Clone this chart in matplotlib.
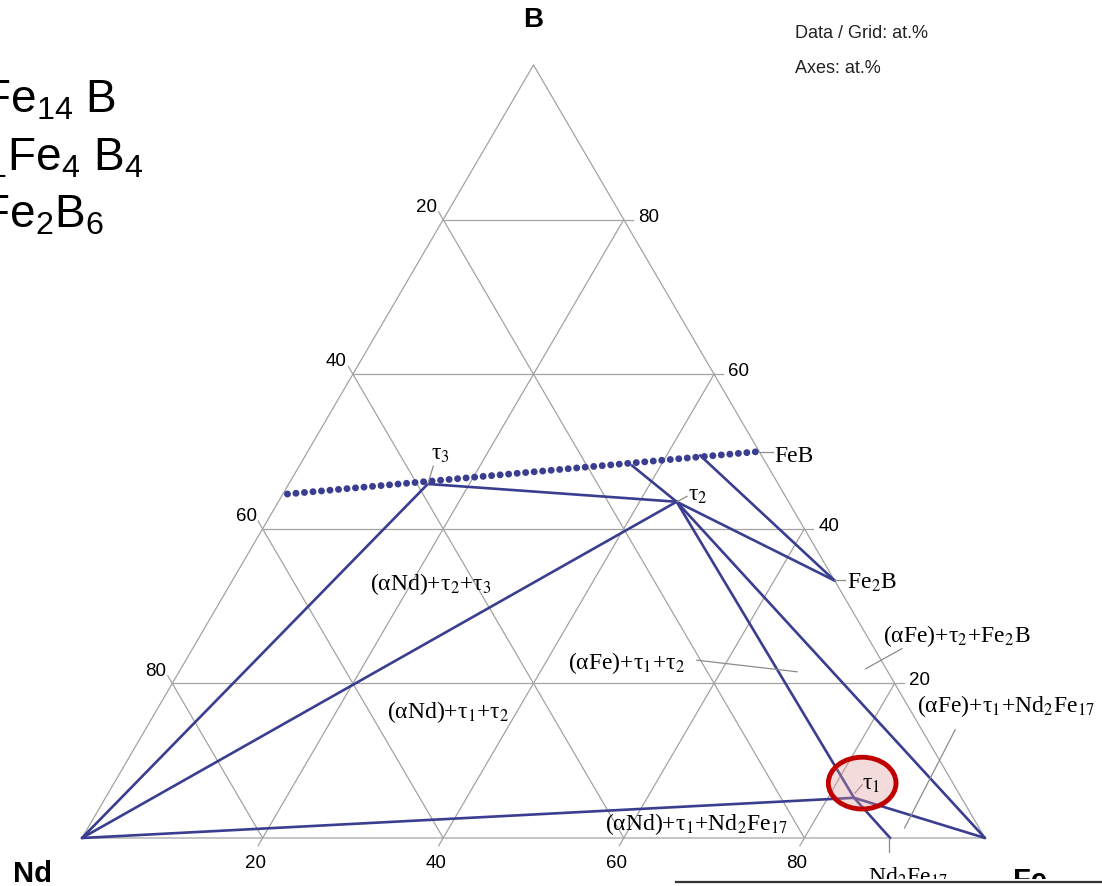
import numpy as np
import matplotlib.pyplot as plt
from matplotlib.patches import Ellipse, Rectangle

plt.rcParams['mathtext.rm'] = 'Liberation Sans'
plt.rcParams['mathtext.it'] = 'Liberation Sans:italic'
plt.rcParams['mathtext.bf'] = 'Liberation Sans:bold'

# phase compositions in at.% (Nd, Fe, B)
nd_corner = [100, 0, 0]
fe_corner = [0, 100, 0]
b_corner = [0, 0, 100]
tau1 = [11.9, 82.9, 5.2]
tau2 = [12.4, 44.1, 43.5]
tau3 = [38.8, 15.4, 45.8]
feb = [0, 50, 50]
fe2b = [0, 66.7, 33.3]
nd2fe17 = [10.5, 89.5, 0]
liq_start = [55.0, 0.5, 44.5]
liq_a = [15.0, 36.8, 48.2]
liq_c = [6.8, 43.7, 49.5]

tie_lines = [(nd_corner, tau3), (nd_corner, tau2), (nd_corner, tau1),
             (tau3, tau2), (liq_a, tau2), (tau2, fe2b), (liq_c, fe2b),
             (tau2, tau1), (tau1, nd2fe17), (tau2, fe_corner), (tau1, fe_corner)]

grid_levels = [20, 40, 60, 80]
grid_labels = ['20', '40', '60', '80']

formulas = [r'Nd$_2$Fe$_{14}$ B', r'Nd$_{1.1}$Fe$_4$ B$_4$', r'Nd$_5$Fe$_2$B$_6$']


def xy(c):
    nd, fe, b = c
    s = nd + fe + b
    return (fe + b / 2) * 100 / s, b * 100 / s


def seg(c1, c2):
    p1, p2 = xy(c1), xy(c2)
    return [p1[0], p2[0]], [p1[1], p2[1]]


fig = plt.figure(figsize=(11.02, 8.86), dpi=100)
ax = fig.add_axes([0, 0, 1, 1])
ax.set_xlim(-9.08, 112.96)
ax.set_ylim(-6.21, 108.41)
ax.axis('off')

grey = '#a3a3a3'
navy = '#3a3d90'
serif = dict(family='Liberation Serif', math_fontfamily='stix', fontsize=17)
sans = dict(family='Liberation Sans', math_fontfamily='custom')

# triangle outline
tri = [nd_corner, fe_corner, b_corner, nd_corner]
ax.plot([xy(c)[0] for c in tri], [xy(c)[1] for c in tri], color=grey, lw=0.9)

# grid lines with a short tick past the labelled edge
for k, lbl in zip(grid_levels, grid_labels):
    # constant B (labelled on the Fe-B edge)
    ax.plot(*seg([100 - k, 0, k], [-1, 101 - k, k]), color=grey, lw=0.9)
    ax.annotate(lbl, xy=xy([-1, 101 - k, k]), xytext=(3.5, -1.5),
                textcoords='offset points', ha='left', va='baseline',
                fontsize=13.5, **sans)
    # constant Nd (labelled on the Nd-B edge)
    ax.plot(*seg([k, -1, 101 - k], [k, 100 - k, 0]), color=grey, lw=0.9)
    ax.annotate(lbl, xy=xy([k, -1, 101 - k]), xytext=(-1, 0),
                textcoords='offset points', ha='right', va='baseline',
                fontsize=13.5, **sans)
    # constant Fe (labelled on the Nd-Fe edge)
    ax.plot(*seg([101 - k, k, -1], [0, k, 100 - k]), color=grey, lw=0.9)
    ax.annotate(lbl, xy=xy([101 - k, k, -1]), xytext=(-2, -16),
                textcoords='offset points', ha='center', va='baseline',
                fontsize=13.5, **sans)

# liquidus trace
ax.plot(*seg(liq_start, feb), color=navy, lw=5.0,
        linestyle=(0, (0.01, 1.22)), dash_capstyle='round')

for a, b in tie_lines:
    ax.plot(*seg(a, b), color=navy, lw=1.9, solid_capstyle='round')

# leader lines for the labels
leaders = [((38.3, 45.8), (38.9, 48.1)), ((65.9, 43.5), (67.0, 44.2)),
           ((75.1, 49.9), (76.5, 49.9)), ((83.3, 33.4), (84.5, 33.4)),
           ((85.6, 5.8), (86.4, 6.9)), ((89.4, 0), (89.4, -1.8)),
           ((68.1, 23.0), (79.2, 21.5)), ((90.8, 24.5), (86.8, 21.9)),
           ((96.7, 14.0), (91.1, 1.3))]
for p, q in leaders:
    ax.plot([p[0], q[0]], [p[1], q[1]], color='#8c8c8c', lw=0.9)

ax.text(38.6, 48.9, r'τ$_3$', ha='left', va='baseline', **serif)
ax.text(67.1, 43.7, r'τ$_2$', ha='left', va='baseline', **serif)
ax.text(86.4, 6.2, r'τ$_1$', ha='left', va='baseline', zorder=6, **serif)
ax.text(76.7, 48.6, 'FeB', ha='left', va='baseline', **serif)
ax.text(84.7, 32.3, r'Fe$_2$B', ha='left', va='baseline', **serif)
ax.text(87.0, -3.6, r'Nd$_2$Fe$_{17}$', ha='left', va='top', **serif)
ax.text(31.9, 32.1, r'(αNd)+τ$_2$+τ$_3$', ha='left', va='baseline', **serif)
ax.text(33.8, 15.5, r'(αNd)+τ$_1$+τ$_2$', ha='left', va='baseline', **serif)
ax.text(53.8, 21.9, r'(αFe)+τ$_1$+τ$_2$', ha='left', va='baseline', **serif)
ax.text(88.7, 25.4, r'(αFe)+τ$_2$+Fe$_2$B', ha='left', va='baseline', **serif)
ax.text(92.5, 16.3, r'(αFe)+τ$_1$+Nd$_2$Fe$_{17}$', ha='left', va='baseline', **serif)
ax.text(57.9, 1.0, r'(αNd)+τ$_1$+Nd$_2$Fe$_{17}$', ha='left', va='baseline', **serif)

# highlight around tau1
ax.add_patch(Ellipse((86.4, 7.1), 7.5, 6.7, facecolor=(0.88, 0.6, 0.6, 0.35),
                     edgecolor='#c00000', lw=3.5, zorder=5))

# corner names
ax.text(50, 105.8, 'B', ha='center', va='center', fontsize=20,
        fontweight='bold', family='Liberation Sans')
ax.text(-7.64, -5.69, 'Nd', ha='left', va='baseline', fontsize=21,
        fontweight='bold', family='Liberation Sans')
ax.text(103.1, -6.6, 'Fe', ha='left', va='baseline', fontsize=21,
        fontweight='bold', family='Liberation Sans')

fig.text(795 / 1102, 1 - 38 / 886, 'Data / Grid: at.%', fontsize=13,
         family='Liberation Sans', color='#222222')
fig.text(795 / 1102, 1 - 73 / 886, 'Axes: at.%', fontsize=13,
         family='Liberation Sans', color='#222222')

# phase formulas on the left
for txt, xr, yb in zip(formulas, [116, 144, 104], [112, 170, 227]):
    fig.text(xr / 1102, 1 - yb / 886, txt, ha='right', va='baseline',
             fontsize=33, **sans)

# panel edge below
fig.add_artist(Rectangle((676 / 1102, 0), 1, 7 / 886, transform=fig.transFigure,
                         facecolor='white', edgecolor='none', zorder=10))
fig.add_artist(plt.Line2D([676 / 1102, 1], [4.5 / 886, 4.5 / 886],
                          transform=fig.transFigure, color='#333333', lw=1.6,
                          zorder=11))

fig.savefig('out.png', dpi=100)
